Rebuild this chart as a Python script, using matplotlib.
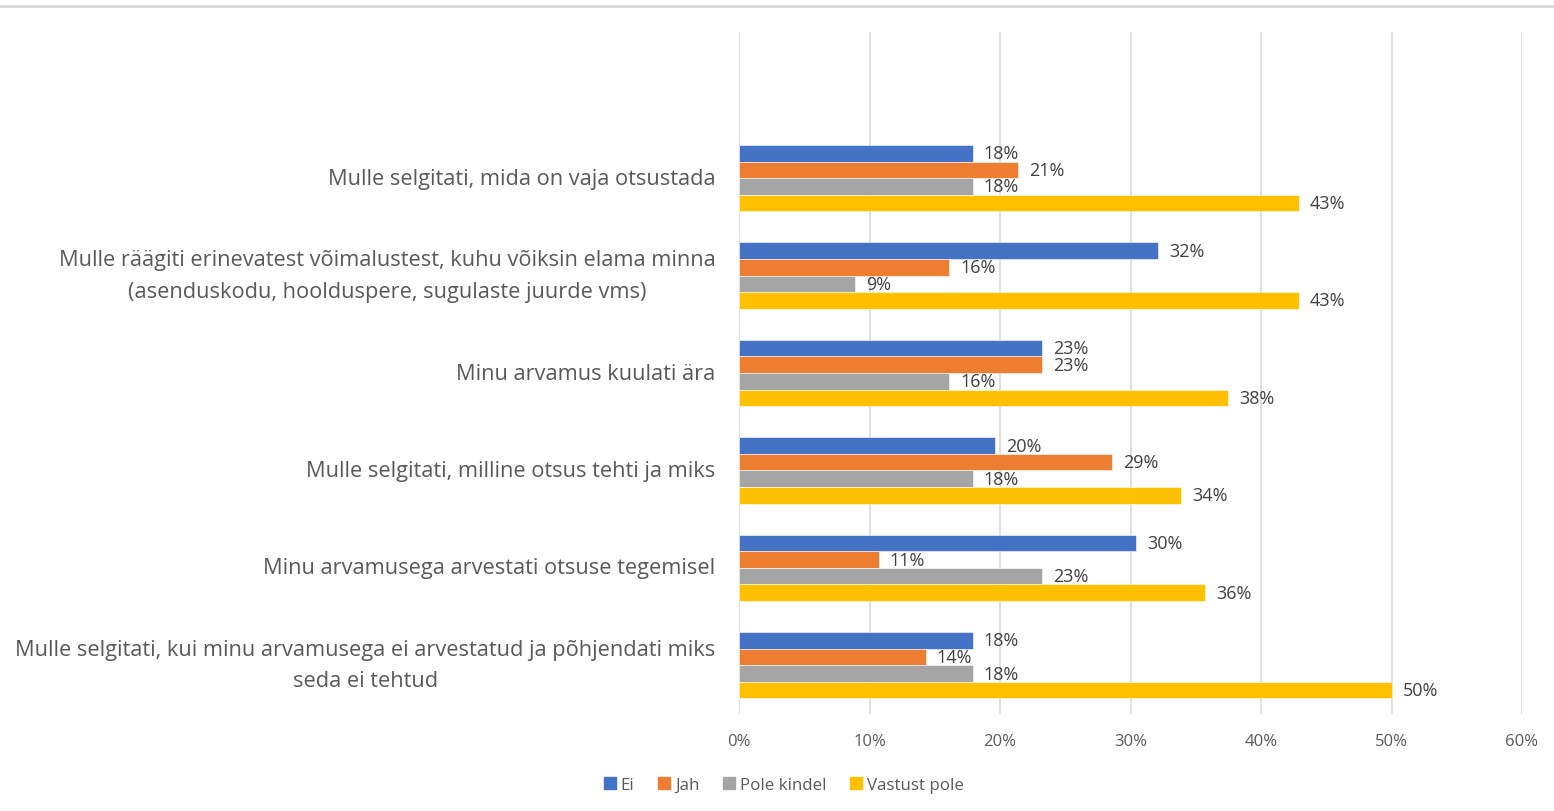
import matplotlib
matplotlib.use("Agg")
import matplotlib.pyplot as plt
import numpy as np
from matplotlib.lines import Line2D

categories = [
    "Mulle selgitati, mida on vaja otsustada",
    "Mulle räägiti erinevatest võimalustest, kuhu võiksin elama minna\n(asenduskodu, hoolduspere, sugulaste juurde vms)",
    "Minu arvamus kuulati ära",
    "Mulle selgitati, milline otsus tehti ja miks",
    "Minu arvamusega arvestati otsuse tegemisel",
    "Mulle selgitati, kui minu arvamusega ei arvestatud ja põhjendati miks\nseda ei tehtud",
]
series_names = ["Ei", "Jah", "Pole kindel", "Vastust pole"]
ei = [17.9, 32.1, 23.2, 19.6, 30.4, 17.9]
jah = [21.4, 16.1, 23.2, 28.6, 10.7, 14.3]
pole_kindel = [17.9, 8.9, 16.1, 17.9, 23.2, 17.9]
vastust_pole = [42.9, 42.9, 37.5, 33.9, 35.7, 50.0]
x_ticks = [0, 10, 20, 30, 40, 50, 60]

colors = ["#4472C4", "#ED7D31", "#A5A5A5", "#FFC000"]
txt = "#595959"

plt.rcParams['font.family'] = ['Open Sans', 'DejaVu Sans']

fig = plt.figure(figsize=(15.54, 8.12), dpi=100)
ax = fig.add_axes([739/1554, 1-715/812, (1522-739)/1554, (715-33)/812])

n = len(categories)
centers = np.arange(n)[::-1].astype(float)  # first category on top
h = 0.17
offsets = [1.5*h, 0.5*h, -0.5*h, -1.5*h]

for vals, name, col, off in zip([ei, jah, pole_kindel, vastust_pole], series_names, colors, offsets):
    bars = ax.barh(centers + off, vals, height=h, color=col, label=name,
                   edgecolor="white", linewidth=0.4, zorder=3)
    for b, v in zip(bars, vals):
        ax.annotate(f"{v:.0f}%", (b.get_width(), b.get_y() + b.get_height()/2),
                    xytext=(8, 0), textcoords="offset points",
                    va="center", ha="left", fontsize=13, color="#404040")

ax.set_xlim(0, 60)
ax.set_ylim(-0.5, n + 0.5)
ax.set_xticks(x_ticks)
ax.set_xticklabels([f"{t}%" for t in x_ticks])
ax.set_yticks(centers)
ax.set_yticklabels(categories)
for lab in ax.get_yticklabels():
    lab.set_multialignment("center")
    lab.set_linespacing(1.65)
    lab.set_verticalalignment("center")
ax.tick_params(axis="y", length=0, pad=17, labelsize=15.7, labelcolor=txt)
ax.tick_params(axis="x", length=0, pad=14, labelsize=12, labelcolor=txt)
ax.grid(axis="x", color="#D9D9D9", linewidth=1.2, zorder=0)
ax.set_axisbelow(True)
for s in ax.spines.values():
    s.set_visible(False)

handles = [plt.Rectangle((0, 0), 1, 1, color=c) for c in colors]
fig.legend(handles, series_names, loc="center", bbox_to_anchor=(784/1554, 1-786/812),
           ncol=4, frameon=False, fontsize=12.2, handlelength=0.7, handleheight=0.7,
           handletextpad=0.3, columnspacing=1.4, labelcolor=txt)

# thin border line at the top of the slide area
fig.add_artist(Line2D([0, 1], [1-7/812, 1-7/812], color="#D9D9D9", linewidth=2))

fig.savefig("out.png", dpi=100)
